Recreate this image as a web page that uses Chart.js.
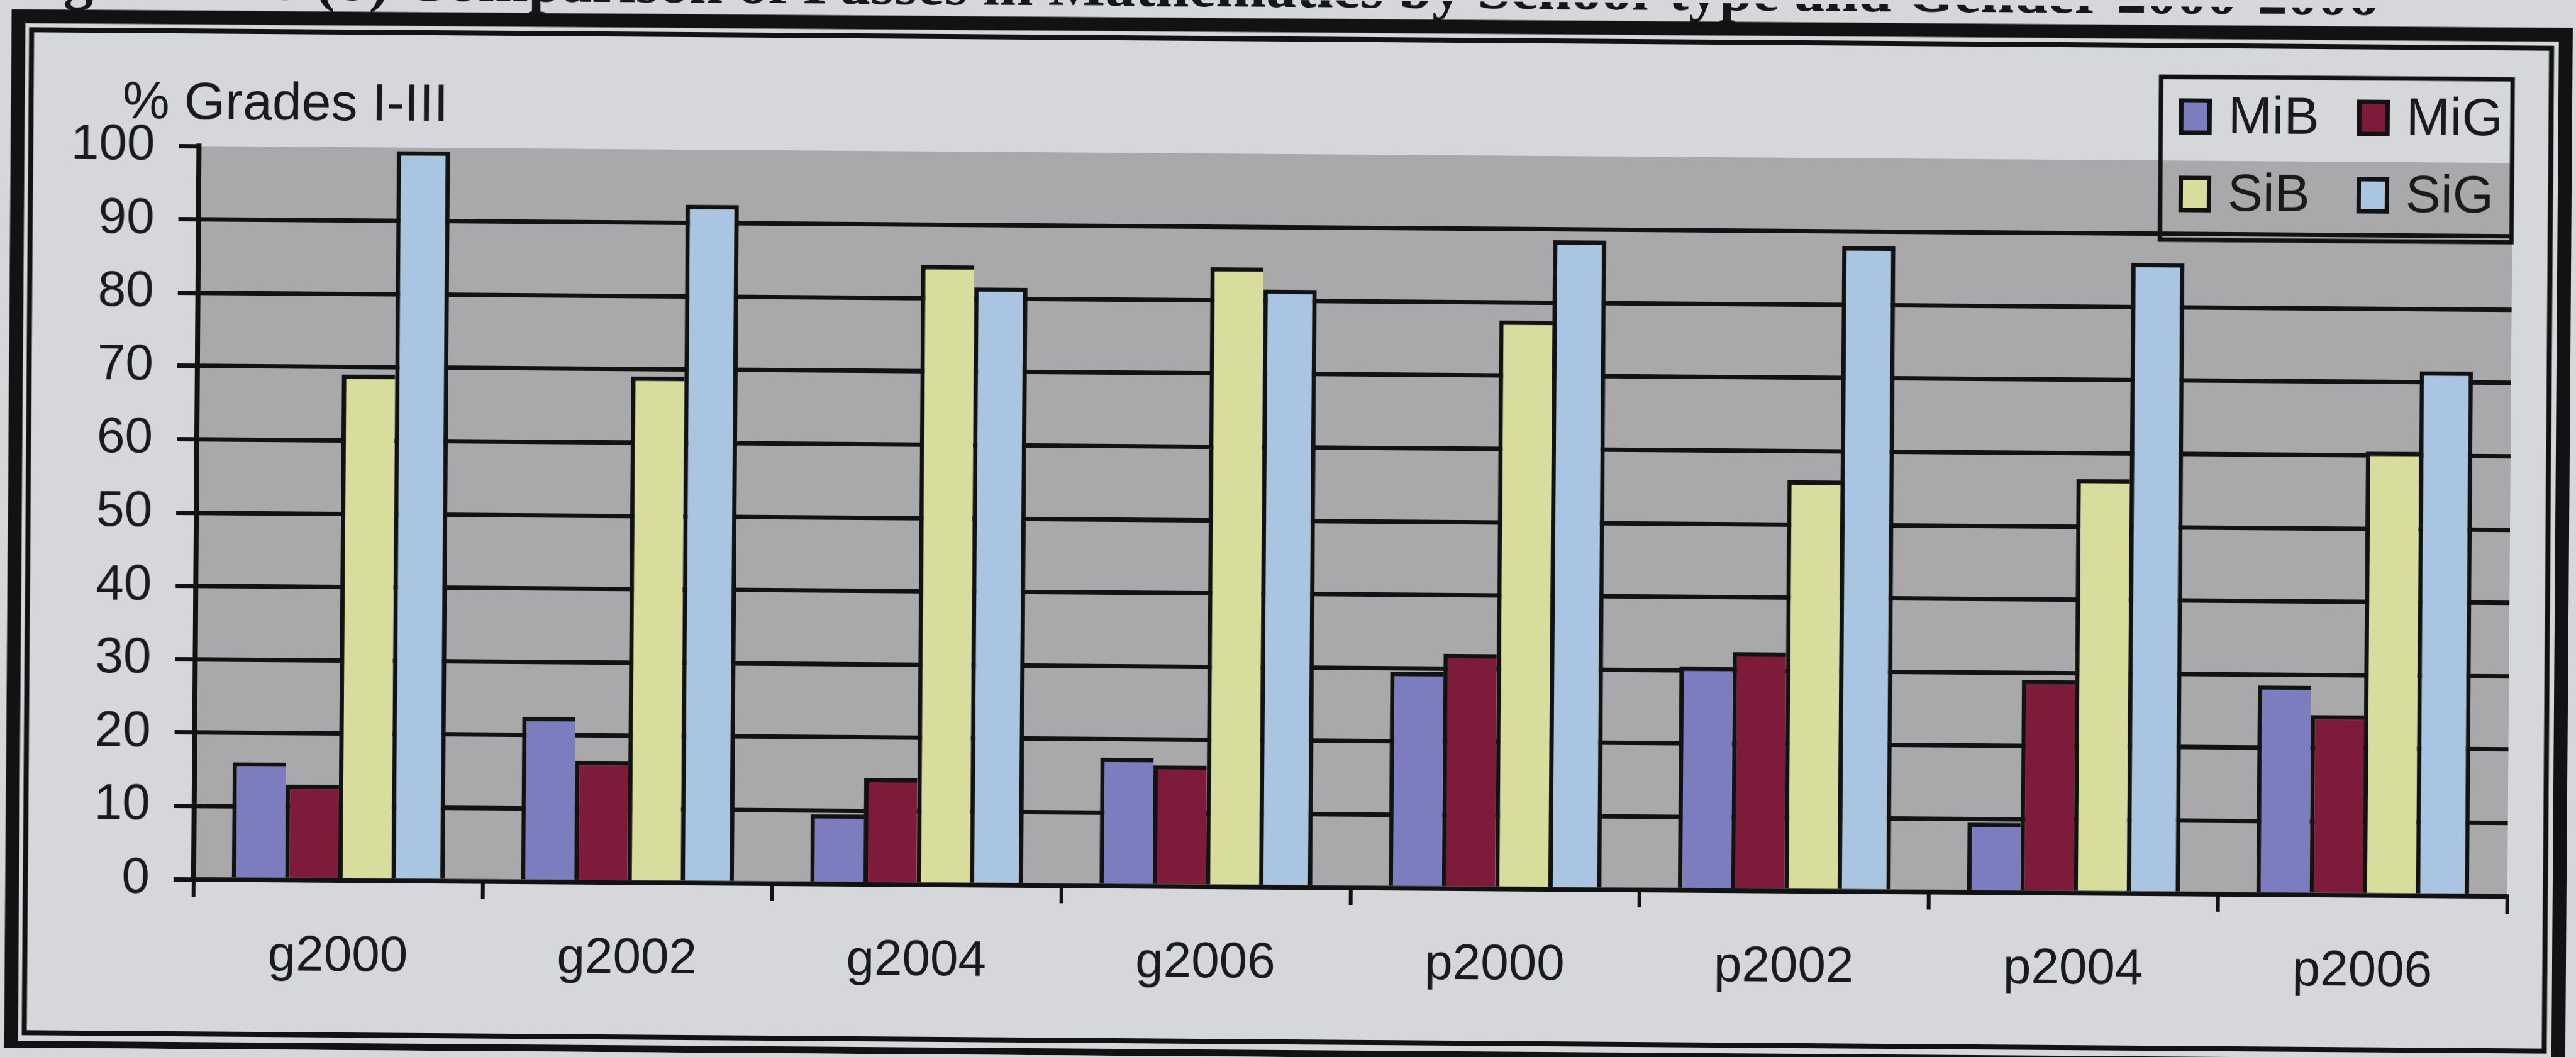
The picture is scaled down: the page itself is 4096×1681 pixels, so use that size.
<!DOCTYPE html>
<html>
<head>
<meta charset="utf-8">
<script src="https://cdn.jsdelivr.net/npm/chart.js@4/dist/chart.umd.min.js"></script>
<style>
  html, body { margin: 0; padding: 0; width: 4096px; height: 1681px; overflow: hidden; background: #d6d7db; }
  #chart { display: block; transform: rotate(0.42deg); transform-origin: 50% 50%; }
</style>
</head>
<body>
<canvas id="chart" width="4096" height="1681"></canvas>
<script>
// School-type / year groups along the x axis
const categories = ['g2000', 'g2002', 'g2004', 'g2006', 'p2000', 'p2002', 'p2004', 'p2006'];

// Series names
const seriesNames = ['MiB', 'MiG', 'SiB', 'SiG'];

// % of candidates with grades I-III, per series
const mibValues = [16, 22.5, 9.5, 17.5, 29.5, 30.5, 9.5, 28.5];
const migValues = [13, 16.5, 14.5, 16.5, 32, 32.5, 29, 24.5];
const sibValues = [69, 69, 84.5, 84.5, 77.5, 56, 56.5, 60.5];
const sigValues = [99.5, 92.5, 81.5, 81.5, 88.5, 88, 86, 71.5];

// Value axis
const yMin = 0;
const yMax = 100;
const yStep = 10;
const yTitle = '% Grades I-III';
const figureTitle = 'Figure 4.10 (b) Comparison of Passes in Mathematics by School-type and Gender 2000-2006';

const INK = '#121212';
const PAPER = '#d6d7db';
const WALL = '#a9a9ab';
const FONT = '"Liberation Sans", Arial, sans-serif';
const seriesColors = ['#7c7dbf', '#7e1b3a', '#d8dc9c', '#a9c5e2'];

const edge = 7;
const innerBorder = { top: edge, left: edge, right: 0, bottom: 0 };
const lastBorder = { top: edge, left: edge, right: edge, bottom: 0 };

const seriesValues = [mibValues, migValues, sibValues, sigValues];
const datasets = seriesNames.map((name, i) => ({
  label: name,
  data: seriesValues[i],
  backgroundColor: seriesColors[i],
  borderColor: INK,
  borderWidth: i === seriesNames.length - 1 ? lastBorder : innerBorder,
  borderSkipped: false
}));

// Paper, page title, double frame and grey back wall
const pagePlugin = {
  id: 'page',
  beforeDraw(chart) {
    const { ctx, chartArea: a } = chart;
    ctx.save();
    ctx.fillStyle = PAPER;
    ctx.fillRect(0, 0, chart.width, chart.height);

    ctx.fillStyle = '#15161c';
    ctx.font = 'bold 96px "Liberation Serif", "Times New Roman", serif';
    ctx.textAlign = 'right';
    ctx.textBaseline = 'alphabetic';
    ctx.fillText(figureTitle, 3775, 11);

    ctx.strokeStyle = INK;
    ctx.lineWidth = 22;
    ctx.strokeRect(23.5, 40.5, 4074 - 23.5, 1681 - 40.5);
    ctx.lineWidth = 8;
    ctx.strokeRect(44.5, 62, 4051.5 - 44.5, 1657 - 62);

    ctx.fillStyle = WALL;
    ctx.fillRect(a.left, a.top, a.right - a.left, a.bottom - a.top);
    ctx.restore();
  }
};

// Axis title, base line over the bars, legend box
const overlayPlugin = {
  id: 'overlay',
  afterDatasetsDraw(chart) {
    const { ctx, chartArea: a } = chart;
    ctx.save();
    ctx.strokeStyle = INK;
    ctx.lineWidth = 7;
    ctx.beginPath();
    ctx.moveTo(a.left, a.bottom);
    ctx.lineTo(a.right, a.bottom);
    ctx.stroke();
    ctx.restore();
  },
  afterDraw(chart) {
    const { ctx } = chart;
    ctx.save();
    ctx.fillStyle = '#1a1a1c';
    ctx.font = '84px ' + FONT;
    ctx.textAlign = 'left';
    ctx.textBaseline = 'alphabetic';
    ctx.fillText(yTitle, 190, 202);

    // legend: two columns, two rows
    const box = { x: 3431, y: 112, w: 3990 - 3431, h: 371 - 112 };
    ctx.strokeStyle = INK;
    ctx.lineWidth = 7;
    ctx.strokeRect(box.x, box.y, box.w, box.h);
    const colX = [3460, 3743];
    const rowY = [175, 298];
    ctx.font = '84px ' + FONT;
    ctx.textBaseline = 'middle';
    chart.data.datasets.forEach((ds, i) => {
      const cx = colX[i % 2];
      const cy = rowY[Math.floor(i / 2)];
      ctx.fillStyle = ds.backgroundColor;
      ctx.fillRect(cx, cy - 29, 52, 58);
      ctx.lineWidth = 7;
      ctx.strokeStyle = INK;
      ctx.strokeRect(cx + 3.5, cy - 25.5, 45, 51);
      ctx.fillStyle = '#1a1a1c';
      ctx.fillText(ds.label, cx + 78, cy + 3);
    });
    ctx.restore();
  }
};

new Chart(document.getElementById('chart').getContext('2d'), {
  type: 'bar',
  data: { labels: categories, datasets },
  options: {
    responsive: false,
    animation: false,
    devicePixelRatio: 1,
    layout: { padding: { left: 0, right: 105, top: 245, bottom: 0 } },
    datasets: { bar: { categoryPercentage: 0.736, barPercentage: 1 } },
    plugins: { legend: { display: false }, tooltip: { enabled: false }, title: { display: false } },
    scales: {
      x: {
        grid: { offset: true, drawOnChartArea: false, color: INK, lineWidth: 6, tickLength: 28 },
        border: { color: INK, width: 7 },
        ticks: { font: { family: FONT, size: 80 }, color: '#1a1a1c', padding: 46 },
        afterFit(scale) { scale.height = 270; }
      },
      y: {
        min: yMin,
        max: yMax,
        ticks: { stepSize: yStep, font: { family: FONT, size: 80 }, color: '#1a1a1c', padding: 38 },
        grid: {
          color: (c) => (c.tick && c.tick.value === yMax ? 'rgba(0,0,0,0)' : INK),
          tickColor: INK,
          lineWidth: 7,
          tickLength: 32
        },
        border: { color: INK, width: 8 },
        afterFit(scale) { scale.width = 312; }
      }
    }
  },
  plugins: [pagePlugin, overlayPlugin]
});
</script>
</body>
</html>
